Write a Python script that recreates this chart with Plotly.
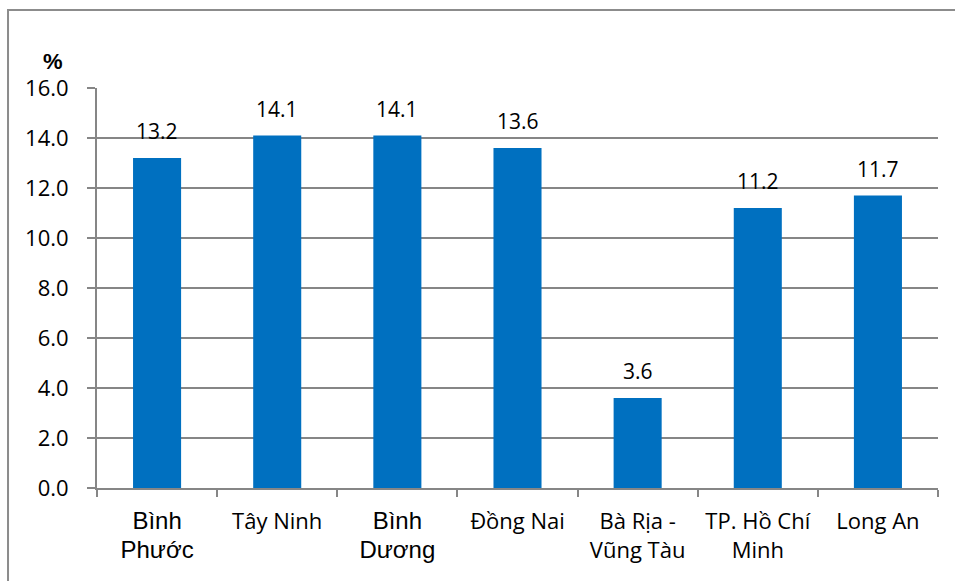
import plotly.graph_objects as go

# Provinces / cities (x categories) and their values in %
provinces = ["Bình Phước", "Tây Ninh", "Bình Dương", "Đồng Nai",
             "Bà Rịa - Vũng Tàu", "TP. Hồ Chí Minh", "Long An"]
tick_labels = [
    "<span style='font-family:Liberation Sans, Arial; font-size:24px'>Bình<br>Phước</span>",
    "Tây Ninh",
    "<span style='font-family:Liberation Sans, Arial; font-size:24px'>Bình<br>Dương</span>",
    "Đồng Nai",
    "Bà Rịa -<br>Vũng Tàu",
    "TP. Hồ Chí<br>Minh",
    "Long An",
]
values = [13.2, 14.1, 14.1, 13.6, 3.6, 11.2, 11.7]
y_ticks = [0, 2, 4, 6, 8, 10, 12, 14, 16]

BAR = "#0070C0"
AXIS = "#868686"
FONT = "Open Sans, sans-serif"

fig = go.Figure(go.Bar(
    x=provinces,
    y=values,
    marker=dict(color=BAR, line=dict(width=0)),
    hoverinfo="skip",
))

# value labels above the bars
for p, v in zip(provinces, values):
    fig.add_annotation(x=p, y=v, text=f"{v:.1f}", showarrow=False,
                       xref="x", yref="y", yanchor="bottom", yshift=11,
                       font=dict(family=FONT, size=21, color="#000000"))

# unit label above the y axis
fig.add_annotation(x=-0.052, y=1.03, xref="paper", yref="paper",
                   text="<b>%</b>", showarrow=False,
                   xanchor="center", yanchor="bottom",
                   font=dict(family="Liberation Sans, Arial", size=22, color="#000000"))

# outer frame
fig.add_shape(type="rect", xref="paper", yref="paper",
              x0=-0.1058, x1=1.1, y0=-0.4, y1=1.195,
              line=dict(color="#8c8c8c", width=2), fillcolor="rgba(0,0,0,0)",
              layer="below")

fig.update_layout(
    width=955, height=581,
    margin=dict(l=97, r=17, t=88, b=93),
    paper_bgcolor="white", plot_bgcolor="white",
    bargap=0.6,
    showlegend=False,
    font=dict(family=FONT, size=21, color="#000000"),
    xaxis=dict(
        type="category",
        tickmode="array", tickvals=provinces, ticktext=tick_labels,
        tickson="boundaries", ticks="outside", ticklen=7, tickwidth=2, tickcolor=AXIS,
        showline=True, linecolor=AXIS, linewidth=2,
        showgrid=False, ticklabelstandoff=13,
        tickfont=dict(family=FONT, size=22, color="#000000"),
    ),
    yaxis=dict(
        range=[0, 16], tickmode="array", tickvals=y_ticks,
        ticktext=[f"{t:.1f}" for t in y_ticks],
        ticks="outside", ticklen=8, tickwidth=2, tickcolor=AXIS,
        showline=True, linecolor=AXIS, linewidth=2,
        showgrid=True, gridcolor=AXIS, gridwidth=2,
        zeroline=False, ticklabelstandoff=14,
        tickfont=dict(family=FONT, size=22, color="#000000"),
    ),
)

fig.write_html("out.html")
